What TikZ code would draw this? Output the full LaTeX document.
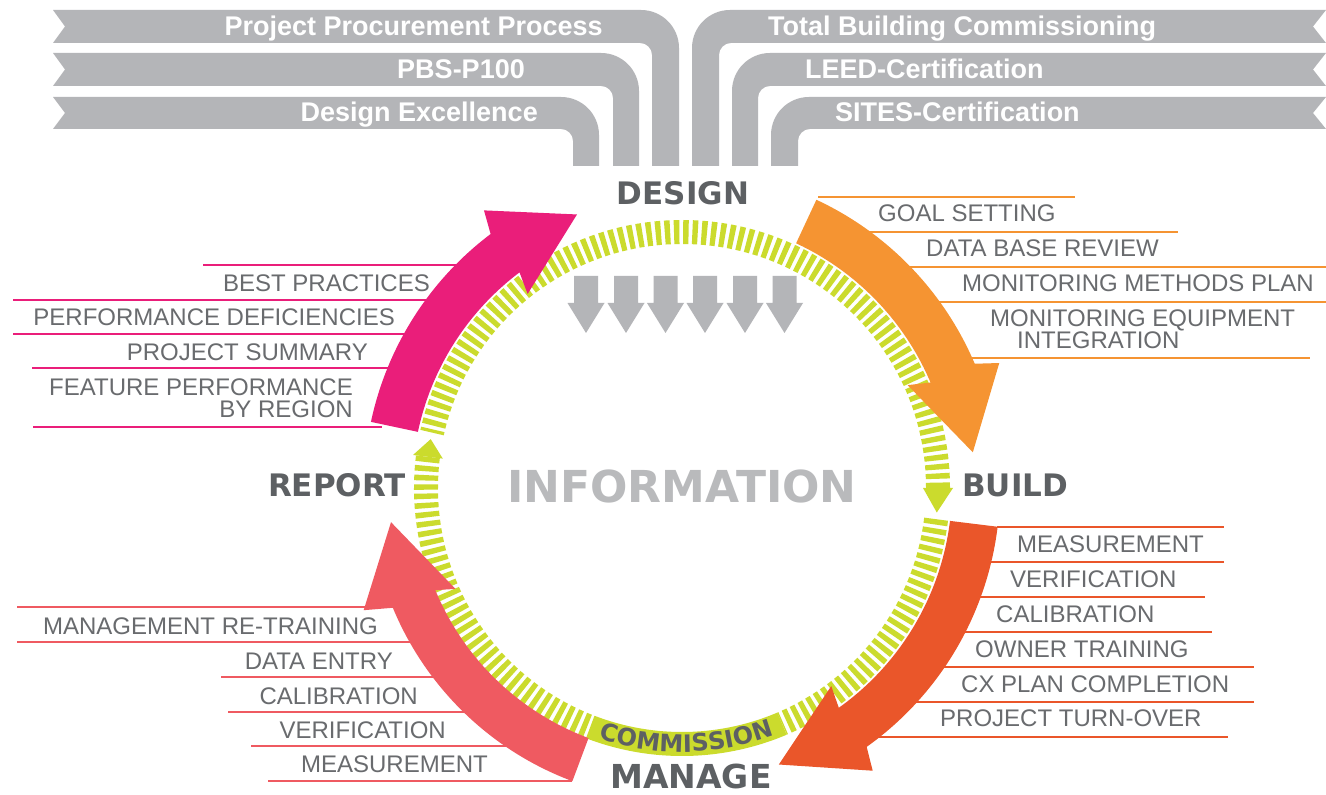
\documentclass[tikz,border=0pt]{standalone}
\usepackage{fontspec}
\setmainfont{Liberation Sans}
\newfontfamily\heavy{DejaVu Sans}
\usetikzlibrary{decorations.text}
\definecolor{bandgray}{RGB}{180,181,184}
\definecolor{ringc}{RGB}{203,219,45}
\definecolor{pinkc}{RGB}{234,30,122}
\definecolor{orangec}{RGB}{245,148,50}
\definecolor{redc}{RGB}{234,86,42}
\definecolor{coralc}{RGB}{239,90,97}
\definecolor{labelgray}{RGB}{105,107,110}
\definecolor{stagegray}{RGB}{93,96,99}
\definecolor{infogray}{RGB}{185,186,188}
\newcommand{\bigarrow}[6]{%
 \fill[#1] (#2:#6) arc[start angle=#2, end angle=#3, radius=#6]
 -- ({#3-1.5}:341pt) -- (#4:293pt) -- ({#3+1.5}:248pt)
 -- (#3:#5) arc[start angle=#3, end angle=#2, radius=#5] -- cycle;}
\tikzset{
 lbl/.style={font=\fontsize{24}{22}\selectfont, text=labelgray, inner sep=0pt},
 bandtxt/.style={font=\bfseries\fontsize{27}{30}\selectfont, text=white, inner sep=0pt},
 stage/.style={font=\heavy\bfseries\fontsize{31}{34}\selectfont, text=stagegray, inner sep=0pt},
 stripe/.style={draw=ringc, line width=24pt, dash pattern=on 5.4pt off 3.8pt},
 pline/.style={draw=pinkc, line width=2.3pt},
 oline/.style={draw=orangec, line width=2.3pt},
 rline/.style={draw=redc, line width=2.3pt},
 cline/.style={draw=coralc, line width=2.3pt}
}
\begin{document}
\begin{tikzpicture}[x=1pt,y=1pt]
\useasboundingbox[fill=white] (0,0) rectangle (1326,795);
% left bands
\foreach \yt/\yb/\xl/\xr in {10/43/652/679, 53/86/613/639, 97/129/573/599}{
 \fill[bandgray] (53,795-\yt) -- (\xr-38,795-\yt) arc[start angle=90,end angle=0,radius=38pt]
  -- (\xr,795-166) -- (\xl,795-166) -- (\xl,795-\yb-12) arc[start angle=0,end angle=90,radius=12pt]
  -- (53,795-\yb) -- (65,795-\yt/2-\yb/2) -- cycle;
}
% right bands
\foreach \yt/\yb/\xl/\xr in {10/43/692/719, 53/86/732/758, 97/129/771/798}{
 \fill[bandgray] (1326,795-\yt) -- (\xl+38,795-\yt) arc[start angle=90,end angle=180,radius=38pt]
  -- (\xl,795-166) -- (\xr,795-166) -- (\xr,795-\yb-12) arc[start angle=180,end angle=90,radius=12pt]
  -- (1326,795-\yb) -- (1313,795-\yt/2-\yb/2) -- cycle;
}
\node[bandtxt, anchor=base east] (b1) at (603,795-36) {Project Procurement Process};
\node[bandtxt, anchor=base east] (b2) at (525,795-79) {PBS-P100};
\node[bandtxt, anchor=base east] (b3) at (538,795-122) {Design Excellence};
\node[bandtxt, anchor=base west] (b4) at (768,795-36) {Total Building Commissioning};
\node[bandtxt, anchor=base west] (b5) at (805,795-79) {LEED-Certification};
\node[bandtxt, anchor=base west] (b6) at (835,795-122) {SITES-Certification};
% down arrows
\foreach \cx in {586,626,665.5,705,745,784.5}{
 \fill[bandgray] (\cx-12,795-276) -- (\cx+12,795-276) -- (\cx+12,795-303) -- (\cx+18.5,795-303)
  -- (\cx,795-333) -- (\cx-18.5,795-303) -- (\cx-12,795-303) -- cycle;
}
% label rules
\draw[pline] (203,795-265) -- (470,795-265);
\draw[pline] (13,795-300) -- (445,795-300);
\draw[pline] (13,795-334) -- (420,795-334);
\draw[pline] (32,795-368) -- (400,795-368);
\draw[pline] (33,795-427) -- (382,795-427);
\draw[oline] (818,795-197) -- (1075,795-197);
\draw[oline] (850,795-232) -- (1178,795-232);
\draw[oline] (890,795-267) -- (1326,795-267);
\draw[oline] (920,795-302) -- (1326,795-302);
\draw[oline] (950,795-358) -- (1310,795-358);
\draw[rline] (997,795-527) -- (1224,795-527);
\draw[rline] (975,795-562) -- (1224,795-562);
\draw[rline] (960,795-597) -- (1205,795-597);
\draw[rline] (945,795-632) -- (1212,795-632);
\draw[rline] (925,795-667) -- (1254,795-667);
\draw[rline] (900,795-702) -- (1254,795-702);
\draw[rline] (860,795-737) -- (1228,795-737);
\draw[cline] (17,795-607) -- (372,795-607);
\draw[cline] (17,795-642) -- (425,795-642);
\draw[cline] (221,795-677) -- (450,795-677);
\draw[cline] (228,795-712) -- (480,795-712);
\draw[cline] (251,795-746) -- (525,795-746);
\draw[cline] (268,795-781) -- (572,795-781);
% ring and arrows
\begin{scope}[shift={(682,307)}]
 \draw[stripe] (0:256pt) arc[start angle=0, end angle=167.5, radius=256pt];
 \draw[stripe] (-7:256pt) arc[start angle=-7, end angle=-67, radius=256pt];
 \draw[stripe] (173:256pt) arc[start angle=173, end angle=249, radius=256pt];
 \draw[ringc, line width=24pt] (-67:256pt) arc[start angle=-67, end angle=-111, radius=256pt];
 \fill[ringc] (173:241pt) -- (169:256pt) -- (173:271pt) -- cycle;
 \fill[ringc] (0:241pt) -- (-5.5:256pt) -- (0:271pt) -- cycle;
 \path[decorate, decoration={text along path, text align=center,
   text={|\heavy\bfseries\fontsize{24}{26}\selectfont\color{stagegray}|COMMISSION}}]
   (-114:264pt) arc[start angle=-114, end angle=-64, radius=264pt];
 \bigarrow{pinkc}{168}{127}{111}{270pt}{318pt}
 \bigarrow{orangec}{65}{23}{7}{270pt}{318pt}
 \bigarrow{redc}{-7}{-54.5}{-70.7}{270pt}{318pt}
 \bigarrow{coralc}{249.5}{202.5}{186.7}{267pt}{313pt}
\end{scope}
% stage labels
\node[stage, anchor=base] (design) at (683,795-205) {DESIGN};
\node[stage, anchor=base east] (report) at (406,795-497) {REPORT};
\node[stage, anchor=base west] (build) at (962,795-497) {BUILD};
\node[stage, anchor=base, font=\heavy\bfseries\fontsize{33}{36}\selectfont] (manage) at (691,795-789) {MANAGE};
\node[inner sep=0pt, anchor=base, text=infogray, font=\heavy\bfseries\fontsize{44}{48}\selectfont] (info) at (682,795-503) {INFORMATION};
% item labels
\node[lbl, anchor=base east] (p1) at (430,795-292) {BEST PRACTICES};
\node[lbl, anchor=base east] (p2) at (395,795-326) {PERFORMANCE DEFICIENCIES};
\node[lbl, anchor=base east] (p3) at (368,795-361) {PROJECT SUMMARY};
\node[lbl, anchor=north east, align=right] (p4) at (353,795-379) {FEATURE PERFORMANCE\\BY REGION};
\node[lbl, anchor=base west] (o1) at (878,795-222) {GOAL SETTING};
\node[lbl, anchor=base west] (o2) at (926,795-257) {DATA BASE REVIEW};
\node[lbl, anchor=base west] (o3) at (962,795-292) {MONITORING METHODS PLAN};
\node[lbl, anchor=north west, align=left] (o4) at (990,795-310) {MONITORING EQUIPMENT\\\hspace*{27pt}INTEGRATION};
\node[lbl, anchor=base west] (r1) at (1017,795-553) {MEASUREMENT};
\node[lbl, anchor=base west] (r2) at (1010,795-588) {VERIFICATION};
\node[lbl, anchor=base west] (r3) at (996,795-623) {CALIBRATION};
\node[lbl, anchor=base west] (r4) at (975,795-658) {OWNER TRAINING};
\node[lbl, anchor=base west] (r5) at (961,795-693) {CX PLAN COMPLETION};
\node[lbl, anchor=base west] (r6) at (940,795-727) {PROJECT TURN-OVER};
\node[lbl, anchor=base east] (c1) at (378,795-635) {MANAGEMENT RE-TRAINING};
\node[lbl, anchor=base east] (c2) at (393,795-670) {DATA ENTRY};
\node[lbl, anchor=base east] (c3) at (418,795-705) {CALIBRATION};
\node[lbl, anchor=base east] (c4) at (446,795-739) {VERIFICATION};
\node[lbl, anchor=base east] (c5) at (488,795-773) {MEASUREMENT};
\end{tikzpicture}
\end{document}
